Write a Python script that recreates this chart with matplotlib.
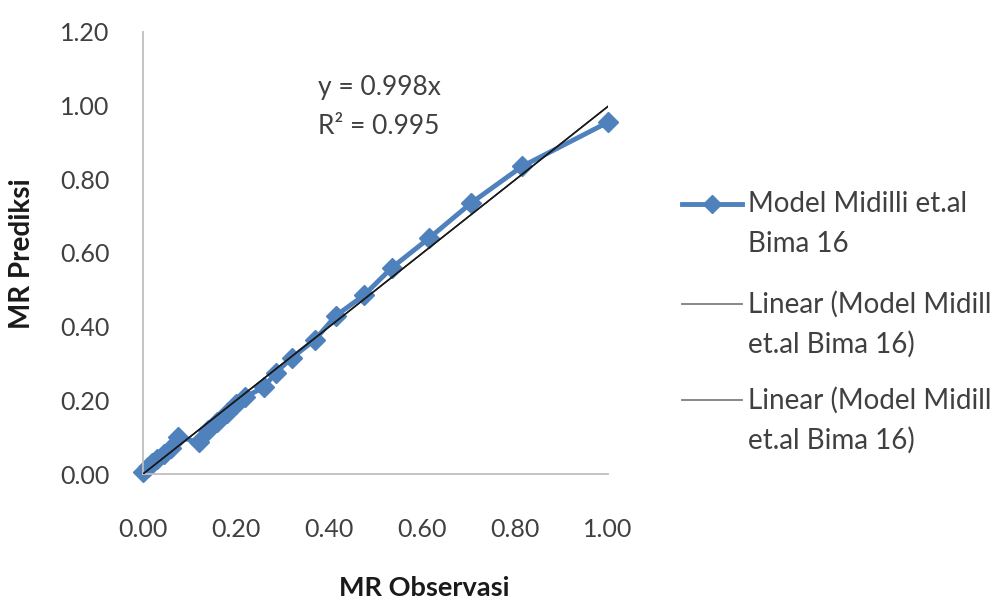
import matplotlib.pyplot as plt
from matplotlib.lines import Line2D

# -------------------------------
# Data
# -------------------------------
mr_observasi = [0.00, 0.01, 0.02, 0.03, 0.045, 0.06, 0.075, 0.12, 0.14, 0.16, 0.18,
                0.20, 0.22, 0.26, 0.285, 0.32, 0.37, 0.415, 0.475, 0.535, 0.615,
                0.705, 0.815, 1.00]
mr_prediksi = [0.005, 0.02, 0.03, 0.04, 0.055, 0.07, 0.10, 0.087, 0.12, 0.14, 0.165,
               0.19, 0.21, 0.235, 0.275, 0.315, 0.365, 0.43, 0.485, 0.56, 0.64,
               0.735, 0.835, 0.955]
slope = 0.998
r2 = 0.995
trend_x = [0.0, 1.0]
trend_y = [slope * v for v in trend_x]

xticks = [0.0, 0.2, 0.4, 0.6, 0.8, 1.0]
yticks = [0.0, 0.2, 0.4, 0.6, 0.8, 1.0, 1.2]

series_name = 'Model Midilli et.al\nBima 16'
trend_name = 'Linear (Model Midill\net.al Bima 16)'

plt.rcParams['font.family'] = ['Lato', 'DejaVu Sans']
text_color = '#404040'
blue = '#4f81bd'

fig = plt.figure(figsize=(9.92, 6.01), dpi=100)
ax = fig.add_axes([143 / 992, 1 - 474 / 601, (608 - 143) / 992, (474 - 32) / 601])

ax.plot(mr_observasi, mr_prediksi, color=blue, lw=3.5, marker='D',
        markersize=10, clip_on=False, zorder=2)
ax.plot(trend_x, trend_y, color='#1a1a1a', lw=1.1, zorder=3)
ax.plot(trend_x, trend_y, color='#1a1a1a', lw=1.1, zorder=3)

ax.set_xlim(0, 1.0)
ax.set_ylim(0, 1.2)
ax.set_xticks(xticks)
ax.set_yticks(yticks)
ax.set_xticklabels([f'{v:.2f}' for v in xticks])
ax.set_yticklabels([f'{v:.2f}' for v in yticks])
ax.tick_params(axis='both', length=0, labelsize=18, colors=text_color)
ax.tick_params(axis='y', pad=24)
ax.tick_params(axis='x', pad=32)

for s in ['top', 'right']:
    ax.spines[s].set_visible(False)
for s in ['left', 'bottom']:
    ax.spines[s].set_color('#bfbfbf')
    ax.spines[s].set_linewidth(1.3)

fig.text(424 / 992, 1 - 588 / 601, 'MR Observasi', ha='center', va='center',
         fontsize=19.5, fontweight='bold', color='#1a1a1a')
fig.text(22 / 992, 1 - 254 / 601, 'MR Prediksi', ha='center', va='center',
         rotation=90, fontsize=20, fontweight='bold', color='#1a1a1a')

fig.text(318 / 992, 1 - 88 / 601, f'y = {slope}x', ha='left', va='center',
         fontsize=19, color=text_color)
fig.text(318 / 992, 1 - 127 / 601, f'R\u00b2 = {r2}', ha='left', va='center',
         fontsize=19, color=text_color)

# -------------------------------
# Legend (Excel style: handle on the first text line)
# -------------------------------
legend_items = [
    (series_name, dict(color=blue, lw=3.5, marker='D', markersize=9,
                       markevery=[1]), 204),
    (trend_name, dict(color='#7f7f7f', lw=1.3), 304),
    (trend_name, dict(color='#7f7f7f', lw=1.3), 400),
]
for label, style, ypix in legend_items:
    yf = 1 - ypix / 601
    fig.add_artist(Line2D([682 / 992, 712 / 992, 742 / 992], [yf, yf, yf],
                          transform=fig.transFigure, **style))
    for i, line in enumerate(label.split('\n')):
        fig.text(748 / 992, 1 - (ypix + 40 * i) / 601, line, ha='left',
                 va='center', fontsize=20, color=text_color)

plt.savefig('out.png')
plt.close()
